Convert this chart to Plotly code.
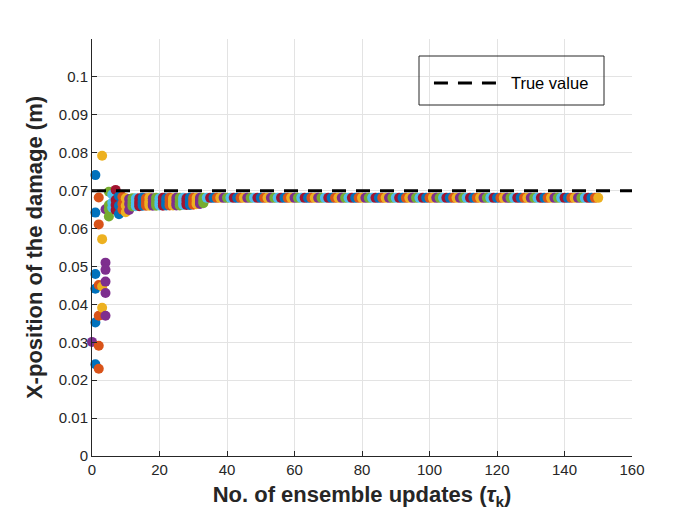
import plotly.graph_objects as go

# ---------------- data ----------------
true_value = 0.07

initial_update = [0]
initial_estimate = [0.0301]

early_updates = [1, 2, 3, 4, 5, 6, 7, 8, 9, 10, 11]
early_estimates = [
    [0.0741, 0.0642, 0.0480, 0.0441, 0.0352, 0.0242],
    [0.0682, 0.0611, 0.0451, 0.0370, 0.0291, 0.0230],
    [0.0792, 0.0572, 0.0447, 0.0391],
    [0.0651, 0.0510, 0.0491, 0.0460, 0.0430, 0.0370],
    [0.0697, 0.0662, 0.0650, 0.0632],
    [0.0690, 0.0668, 0.0655],
    [0.0702, 0.0675, 0.0662, 0.0649],
    [0.0685, 0.0660, 0.0638],
    [0.0684, 0.0665, 0.0650],
    [0.0680, 0.0660, 0.0643],
    [0.0678, 0.0665, 0.0649],
]

mid_updates = list(range(12, 34))
mid_estimates = [
    [0.0680, 0.0671, 0.0664, 0.0658],
    [0.0680, 0.0672, 0.0664, 0.0659],
    [0.0680, 0.0671, 0.0665, 0.0659],
    [0.0681, 0.0672, 0.0665, 0.0660],
    [0.0680, 0.0673, 0.0665, 0.0660],
    [0.0681, 0.0672, 0.0666, 0.0660],
    [0.0680, 0.0673, 0.0665, 0.0660],
    [0.0681, 0.0673, 0.0666, 0.0660],
    [0.0680, 0.0672, 0.0666, 0.0661],
    [0.0681, 0.0673, 0.0666, 0.0660],
    [0.0680, 0.0673, 0.0666, 0.0661],
    [0.0681, 0.0674, 0.0666, 0.0661],
    [0.0680, 0.0673, 0.0667, 0.0661],
    [0.0681, 0.0674, 0.0666, 0.0661],
    [0.0681, 0.0673, 0.0667, 0.0661],
    [0.0681, 0.0674, 0.0667, 0.0662],
    [0.0680, 0.0674, 0.0667, 0.0662],
    [0.0681, 0.0674, 0.0667, 0.0662],
    [0.0681, 0.0675, 0.0668, 0.0663],
    [0.0681, 0.0675, 0.0668, 0.0664],
    [0.0681, 0.0675, 0.0669, 0.0665],
    [0.0681, 0.0676, 0.0670, 0.0667],
]

late_updates = list(range(34, 151))
late_estimates = [
    0.0681, 0.0681, 0.0681, 0.0681, 0.0681, 0.0681, 0.0681, 0.0681, 0.0681, 0.0681,
    0.0681, 0.0681, 0.0681, 0.0681, 0.0681, 0.0681, 0.0681, 0.0681, 0.0681, 0.0681,
    0.0681, 0.0681, 0.0681, 0.0681, 0.0681, 0.0681, 0.0681, 0.0681, 0.0681, 0.0681,
    0.0681, 0.0681, 0.0681, 0.0681, 0.0681, 0.0681, 0.0681, 0.0681, 0.0681, 0.0681,
    0.0681, 0.0681, 0.0681, 0.0681, 0.0681, 0.0681, 0.0681, 0.0681, 0.0681, 0.0681,
    0.0681, 0.0681, 0.0681, 0.0681, 0.0681, 0.0681, 0.0681, 0.0681, 0.0681, 0.0681,
    0.0681, 0.0681, 0.0681, 0.0681, 0.0681, 0.0681, 0.0681, 0.0681, 0.0681, 0.0681,
    0.0681, 0.0681, 0.0681, 0.0681, 0.0681, 0.0681, 0.0681, 0.0681, 0.0681, 0.0681,
    0.0681, 0.0681, 0.0681, 0.0681, 0.0681, 0.0681, 0.0681, 0.0681, 0.0681, 0.0681,
    0.0681, 0.0681, 0.0681, 0.0681, 0.0681, 0.0681, 0.0681, 0.0681, 0.0681, 0.0681,
    0.0681, 0.0681, 0.0681, 0.0681, 0.0681, 0.0681, 0.0681, 0.0681, 0.0681, 0.0681,
    0.0681, 0.0681, 0.0681, 0.0681, 0.0681, 0.0681, 0.0681,
]

x_ticks = [0, 20, 40, 60, 80, 100, 120, 140, 160]
y_ticks = [0, 0.01, 0.02, 0.03, 0.04, 0.05, 0.06, 0.07, 0.08, 0.09, 0.1]
y_tick_labels = ["0", "0.01", "0.02", "0.03", "0.04", "0.05", "0.06", "0.07", "0.08", "0.09", "0.1"]

matlab_colors = ["#0072BD", "#D95319", "#EDB120", "#7E2F8E", "#77AC30", "#4DBEEE", "#A2142F"]

# ---------------- flatten ----------------
xs, ys, cs = [], [], []
xs += initial_update
ys += initial_estimate
cs += ["#7E2F8E"]
for k, vals in zip(early_updates, early_estimates):
    for v in vals:
        xs.append(k); ys.append(v); cs.append(matlab_colors[(k - 1) % 7])
for k, vals in zip(mid_updates, mid_estimates):
    for v in vals:
        xs.append(k); ys.append(v); cs.append(matlab_colors[(k - 1) % 7])
for k, v in zip(late_updates, late_estimates):
    xs.append(k); ys.append(v); cs.append(matlab_colors[(k - 1) % 7])

axis_color = "#262626"
font_family = "Liberation Sans, Arial, sans-serif"

# page body has an ~8px offset; margins compensate
L, R, T, B = 84, 76, 31, 77
PW, PH = 700 - L - R, 525 - T - B

fig = go.Figure()
fig.add_trace(go.Scatter(
    x=xs, y=ys, mode="markers",
    marker=dict(size=10, color=cs, line=dict(width=0)),
    showlegend=False, cliponaxis=False, hoverinfo="skip",
))
fig.add_trace(go.Scatter(
    x=[0, 160], y=[true_value, true_value], mode="lines",
    line=dict(color="black", width=3, dash="14px,10px"),
    name="True value", showlegend=True,
))

fig.update_layout(
    width=700, height=525,
    margin=dict(l=L, r=R, t=T, b=B),
    paper_bgcolor="white", plot_bgcolor="white",
    font=dict(family=font_family, size=14, color=axis_color),
    legend=dict(
        x=0.624, y=0.894, xanchor="left", yanchor="middle",
        bgcolor="rgba(0,0,0,0)", borderwidth=0,
        itemwidth=72, font=dict(size=16.5, color="black"),
    ),
    shapes=[dict(
        type="rect", xref="paper", yref="paper",
        x0=(419 - 92) / PW, x1=(604 - 92) / PW,
        y0=(456 - 105) / PH, y1=(456 - 56) / PH,
        line=dict(color=axis_color, width=1), fillcolor="rgba(0,0,0,0)",
        layer="above",
    )],
)

fig.update_xaxes(
    range=[0, 160], tickvals=x_ticks, ticks="inside", ticklen=5,
    tickcolor=axis_color, showline=True, linecolor=axis_color, linewidth=1,
    showgrid=True, gridcolor="#e3e3e3", gridwidth=1, zeroline=False,
    tickfont=dict(size=15), mirror=False,
    title=dict(text="<b>No. of ensemble updates (<i>τ</i><sub>k</sub>)</b>",
               font=dict(size=22, color=axis_color), standoff=9),
)
fig.update_yaxes(
    range=[0, 0.11], tickvals=y_ticks, ticktext=y_tick_labels, ticks="inside", ticklen=5,
    tickcolor=axis_color, showline=True, linecolor=axis_color, linewidth=1,
    showgrid=True, gridcolor="#e3e3e3", gridwidth=1, zeroline=False,
    tickfont=dict(size=15),
    title=dict(text="<b>X-position of the damage (m)</b>",
               font=dict(size=22, color=axis_color), standoff=10),
)

fig.write_html("out.html")
